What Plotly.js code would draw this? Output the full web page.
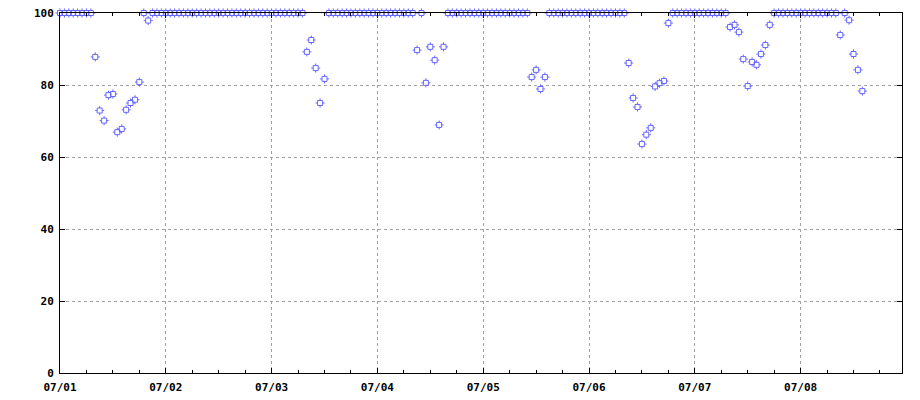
<!DOCTYPE html>
<html>
<head>
<meta charset="utf-8">
<script src="https://cdn.plot.ly/plotly-3.0.1.min.js"></script>
<style>
html,body{margin:0;padding:0;background:#fff;}
#chart{width:920px;height:400px;}
</style>
</head>
<body>
<div id="chart"></div>
<script>
// Hourly series starting 07/01 00:00
const startTime = '2024-07-01T00:00:00';
const values = [
  // 07/01
  100,100,100,100,100,100,100,100,87.8,72.9,70.1,77.2,77.5,66.9,67.8,73.1,75.0,75.9,80.8,100,97.9,100,100,100,
  // 07/02
  100,100,100,100,100,100,100,100,100,100,100,100,100,100,100,100,100,100,100,100,100,100,100,100,
  // 07/03
  100,100,100,100,100,100,100,100,89.2,92.5,84.7,75.0,81.7,100,100,100,100,100,100,100,100,100,100,100,
  // 07/04
  100,100,100,100,100,100,100,100,100,89.7,100,80.6,90.6,86.9,68.9,90.6,100,100,100,100,100,100,100,100,
  // 07/05
  100,100,100,100,100,100,100,100,100,100,100,82.2,84.2,78.9,82.2,100,100,100,100,100,100,100,100,100,
  // 07/06
  100,100,100,100,100,100,100,100,100,86.1,76.4,73.9,63.6,66.2,68.1,79.6,80.5,81.1,97.2,100,100,100,100,100,
  // 07/07
  100,100,100,100,100,100,100,100,96.1,96.7,94.7,87.2,79.7,86.4,85.6,88.6,91.1,96.7,100,100,100,100,100,100,
  // 07/08
  100,100,100,100,100,100,100,100,100,93.9,100,98.0,88.6,84.2,78.3
];
const tickDates = ['2024-07-01','2024-07-02','2024-07-03','2024-07-04','2024-07-05','2024-07-06','2024-07-07','2024-07-08'];
const tickLabels = ['07/01','07/02','07/03','07/04','07/05','07/06','07/07','07/08'];
const yTicks = [0,20,40,60,80,100];

const t0 = new Date(startTime + 'Z').getTime();
function fmt(ms){ return new Date(ms).toISOString().slice(0,19).replace('T',' '); }
const times = values.map((v,i)=>fmt(t0 + i*3600000));

const blue = '#6666ff';
const traces = [
  {x: times, y: values, type:'scatter', mode:'markers', hoverinfo:'skip', cliponaxis:false,
   marker:{symbol:'cross-thin-open', size:6.5, color:blue, line:{color:blue, width:1}}},
  {x: times, y: values, type:'scatter', mode:'markers', hoverinfo:'skip', cliponaxis:false,
   marker:{symbol:'square', size:5, color:'#ffffff', line:{width:0}}},
  {x: times, y: values, type:'scatter', mode:'markers', hoverinfo:'skip', cliponaxis:false,
   marker:{symbol:'square-open', size:5, color:blue, line:{color:blue, width:1}}}
];

const font = {family:'"DejaVu Sans Mono", monospace', size:11, color:'#000', weight:'bold'};
const layout = {
  width:920, height:400,
  margin:{l:60, r:17.5, t:13, b:26.7, pad:0},
  paper_bgcolor:'#fff', plot_bgcolor:'#fff',
  showlegend:false,
  font: font,
  xaxis:{
    type:'date',
    range:['2024-07-01 00:00:00','2024-07-08 23:00:00'],
    tickmode:'array', tickvals:tickDates, ticktext:tickLabels,
    ticks:'inside', ticklen:5, tickwidth:1, tickcolor:'#000',
    showline:true, linecolor:'#000', linewidth:1, mirror:'ticks',
    showgrid:true, gridcolor:'#a0a0a0', griddash:'dot', gridwidth:1,
    zeroline:false, tickfont:font, ticklabelstandoff:4,
    minor:{dtick:6*3600000, ticks:'inside', ticklen:3, tickcolor:'#000', showgrid:false}
  },
  yaxis:{
    range:[0,100],
    tickmode:'array', tickvals:yTicks, ticktext:yTicks.map(String),
    ticks:'inside', ticklen:5, tickwidth:1, tickcolor:'#000',
    showline:true, linecolor:'#000', linewidth:1, mirror:'ticks',
    showgrid:true, gridcolor:'#a0a0a0', griddash:'dot', gridwidth:1,
    zeroline:false, tickfont:font, ticklabelstandoff:3
  }
};
Plotly.newPlot('chart', traces, layout, {staticPlot:true, displayModeBar:false});
</script>
</body>
</html>
